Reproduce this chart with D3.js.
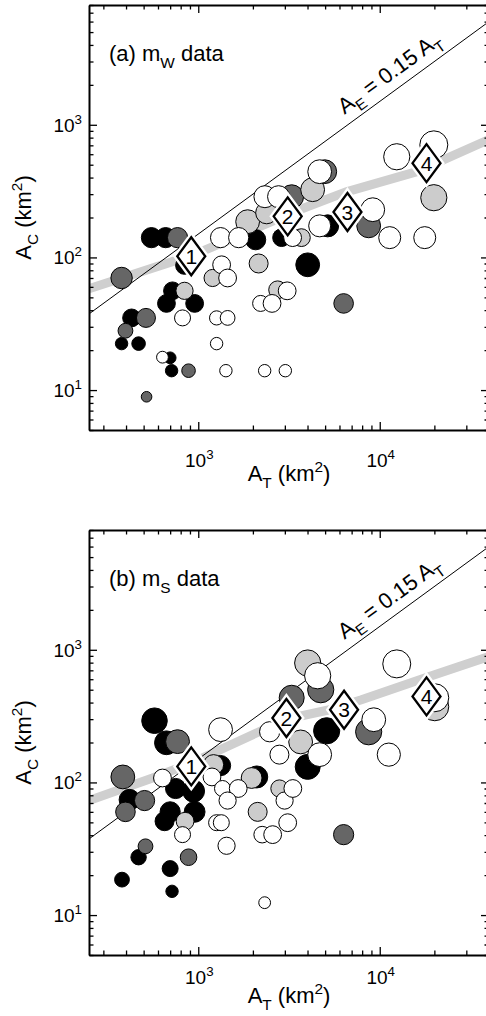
<!DOCTYPE html>
<html>
<head>
<meta charset="utf-8">
<script src="https://cdn.jsdelivr.net/npm/d3@7"></script>
<style>
  body { margin: 0; background: #fff; }
  text { font-family: "Liberation Sans", Arial, Helvetica, sans-serif; fill: #000; }
</style>
</head>
<body>
<script>
// ---- data (A_T, A_C in km^2; size = event magnitude; grp = shade class) ----
const groups = ['A', 'B', 'C', 'D'];   // drawn in this order (black first, white last)
const groupFill = ['#000000', '#666666', '#cccccc', '#ffffff'];

const xMajor = [1e3, 1e4];
const xMinor = [300, 400, 500, 600, 700, 800, 900, 2000, 3000, 4000, 5000, 6000, 7000, 8000, 9000, 20000, 30000, 40000];
const yMajor = [10, 100, 1000];
const yMinor = [5, 6, 7, 8, 9, 20, 30, 40, 50, 60, 70, 80, 90, 200, 300, 400, 500, 600, 700, 800, 900, 2000, 3000, 4000, 5000, 6000, 7000, 8000];

const ratio = 0.15; // A_E = 0.15 A_T

// [A_T, A_C, size, grp]
const mwPoints = [
  [552, 141, 6.7, 0], [661, 141, 6.7, 0], [2071, 136, 6.7, 0], [2878, 141, 6.3, 0],
  [5164, 173, 7.0, 0], [4009, 88, 7.3, 0], [840, 87, 6.3, 0], [721, 56, 6.3, 0],
  [668, 45, 6.3, 0], [955, 45, 6.3, 0], [429, 35, 6.3, 0], [378, 22.4, 5.4, 0],
  [469, 22.4, 5.6, 0], [700, 17.5, 5.3, 0], [713, 14, 5.4, 0],
  [769, 141, 6.7, 1], [378, 70, 6.9, 1], [515, 35, 6.5, 1], [397, 28, 5.8, 1],
  [884, 14, 5.6, 1], [519, 8.9, 5.1, 1], [3272, 287, 7.3, 1], [4977, 443, 7.3, 1],
  [8690, 173, 7.3, 1], [6324, 45, 6.6, 1],
  [840, 56, 6.2, 2], [1200, 70, 6.2, 2], [2151, 90, 6.5, 2], [2737, 57, 6.3, 2],
  [1871, 186, 7.3, 2], [2382, 217, 7.0, 2], [4268, 324, 7.3, 2], [3700, 141, 6.3, 2],
  [19860, 282, 7.7, 2],
  [1327, 141, 6.7, 3], [1670, 141, 6.7, 3], [3311, 141, 6.3, 3], [4667, 173, 7.0, 3],
  [9150, 229, 7.3, 3], [11350, 141, 7.0, 3], [17700, 141, 7.0, 3], [12410, 574, 7.7, 3],
  [19860, 706, 8.0, 3], [4667, 443, 7.3, 3], [2330, 287, 7.0, 3], [2770, 287, 7.0, 3],
  [1345, 88, 6.3, 3], [1451, 70, 6.3, 3], [1262, 35, 5.7, 3], [1451, 35, 5.8, 3],
  [1262, 22.4, 5.4, 3], [1420, 14, 5.4, 3], [2322, 14, 5.4, 3], [3018, 14, 5.4, 3],
  [2206, 45, 6.0, 3], [2550, 45, 6.3, 3], [3090, 56, 6.3, 3], [819, 35, 6.0, 3],
  [635, 17.7, 5.3, 3]
];

const msPoints = [
  [574, 292, 7.6, 0], [668, 199, 7.3, 0], [418, 74, 6.8, 0], [750, 90, 6.7, 0],
  [942, 86, 7.0, 0], [700, 60, 6.7, 0], [955, 60, 6.8, 0], [652, 51, 6.5, 0],
  [469, 27.3, 5.9, 0], [700, 22.4, 6.0, 0], [380, 18.5, 5.8, 0], [717, 15.1, 5.4, 0],
  [1327, 134, 6.7, 0], [2100, 110, 7.0, 0], [5100, 245, 7.7, 0], [4009, 131, 7.5, 0],
  [769, 203, 7.3, 1], [384, 110, 7.3, 1], [506, 73, 6.7, 1], [397, 60, 6.6, 1],
  [512, 33, 5.8, 1], [884, 27.3, 6.1, 1], [6324, 40.4, 6.7, 1], [3272, 435, 7.5, 1],
  [4730, 500, 7.7, 1], [8690, 241, 7.7, 1],
  [4009, 795, 7.7, 2], [1214, 136, 6.7, 2], [1968, 108, 6.8, 2], [2125, 60, 6.5, 2],
  [2800, 90, 6.2, 2], [846, 51, 6.3, 2], [3665, 202, 7.3, 2], [20100, 372, 8.0, 2],
  [1327, 250, 7.3, 3], [635, 108, 6.3, 3], [819, 40.4, 6.0, 3], [1190, 110, 6.3, 3],
  [1360, 90, 6.0, 3], [1660, 90, 6.3, 3], [1451, 73, 6.2, 3], [1262, 49.7, 6.0, 3],
  [1340, 49.7, 6.0, 3], [1432, 33.3, 6.2, 3], [2250, 40.4, 6.1, 3], [2570, 40.4, 6.3, 3],
  [3110, 49.7, 6.3, 3], [2990, 73, 6.2, 3], [3320, 90, 6.3, 3], [2800, 162, 6.5, 3],
  [2322, 12.4, 5.3, 3], [2474, 241, 6.7, 3], [4667, 162, 7.3, 3], [11220, 162, 7.2, 3],
  [9266, 297, 7.3, 3], [4550, 637, 7.7, 3], [12410, 783, 8.0, 3], [20100, 435, 8.0, 3]
];

// numbered bin markers [A_T, A_C]
const mwBins = [[915, 102], [3110, 204], [6640, 220], [18100, 514]];
const msBins = [[915, 132], [3060, 306], [6360, 353], [18100, 445]];

// grey trend band [A_T, A_C]
const mwTrend = [[250, 58], [720, 93], [920, 103], [3700, 232], [6550, 312], [16000, 443], [40000, 775]];
const msTrend = [[250, 73], [560, 108], [915, 140], [3060, 300], [5290, 353], [7930, 420], [16600, 594], [40000, 890]];

// ---- drawing ----
const W = 486, H = 1016;
const left = 89, right = 489, ph = 425;

const svg = d3.select('body').append('svg')
  .attr('width', W).attr('height', H);

const x = d3.scaleLog().domain([250, 40000]).range([left, right]);
const r = d3.scaleLinear().domain([5, 8]).range([5, 14]);

// text with sub/superscripts: segments [{t, sub, sup}]
function richText(sel, segs, size) {
  let shift = 0;
  segs.forEach(s => {
    const target = s.sub ? size * 0.3 : s.sup ? -size * 0.42 : 0;
    sel.append('tspan')
      .attr('dy', target - shift)
      .style('font-size', (s.sub || s.sup ? size * 0.7 : size) + 'px')
      .text(s.t);
    shift = target;
  });
}

function panel(cfg) {
  const top = cfg.top, bottom = top + ph;
  const y = d3.scaleLog().domain([5, 8000]).range([bottom, top]);
  const g = svg.append('g');

  svg.append('clipPath').attr('id', 'clip' + cfg.id)
    .append('rect').attr('x', left).attr('y', top).attr('width', right - left).attr('height', ph);
  const plot = g.append('g').attr('clip-path', `url(#clip${cfg.id})`);

  const line = d3.line().x(d => x(d[0])).y(d => y(d[1]));

  plot.append('path').datum(cfg.trend)
    .attr('d', line)
    .attr('fill', 'none').attr('stroke', '#cfcfcf').attr('stroke-width', 9);

  plot.append('path').datum(x.domain().map(v => [v, ratio * v]))
    .attr('d', line)
    .attr('fill', 'none').attr('stroke', '#000').attr('stroke-width', 1);

  const pts = cfg.points.slice().sort((a, b) => a[3] - b[3]);
  plot.append('g').selectAll('circle').data(pts).join('circle')
    .attr('cx', d => x(d[0])).attr('cy', d => y(d[1]))
    .attr('r', d => r(d[2]))
    .attr('fill', d => groupFill[d[3]])
    .attr('stroke', '#000').attr('stroke-width', 1);

  const shape = 'M0,-19L14,0L0,19L-14,0Z';
  const dg = plot.append('g').selectAll('g').data(cfg.bins).join('g')
    .attr('transform', d => `translate(${x(d[0])},${y(d[1])})`);
  dg.append('path').attr('d', shape).attr('fill', '#fff').attr('stroke', '#fff').attr('stroke-width', 7);
  dg.append('path').attr('d', shape).attr('fill', '#fff').attr('stroke', '#000').attr('stroke-width', 2.3);
  dg.append('text').attr('text-anchor', 'middle').attr('dy', '0.36em')
    .style('font-size', '21px').text((d, i) => i + 1);

  // A_E label along the line
  const p1 = [x(1000), y(ratio * 1000)], p2 = [x(10000), y(ratio * 10000)];
  const ang = Math.atan2(p2[1] - p1[1], p2[0] - p1[0]) * 180 / Math.PI;
  const at0 = 6900;
  const lab = g.append('text')
    .attr('transform', `translate(${x(at0)},${y(ratio * at0)}) rotate(${ang})`)
    .attr('y', -10);
  richText(lab, [{t: 'A'}, {t: 'E', sub: true}, {t: ' = 0.15 A'}, {t: 'T', sub: true}], 22);

  // panel label
  const pl = g.append('text').attr('x', 109).attr('y', top + 56);
  richText(pl, cfg.label, 22);

  // axes: major + minor, ticks pointing inward
  const axes = g.append('g');
  const mk = (axisFn, scale, vals, len) => axisFn(scale).tickValues(vals).tickSize(-len).tickSizeOuter(0).tickFormat('');
  [[d3.axisBottom, x, `translate(0,${bottom})`], [d3.axisTop, x, `translate(0,${top})`]].forEach(([fn, s, tr]) => {
    axes.append('g').attr('transform', tr).call(mk(fn, s, xMajor, 8));
    axes.append('g').attr('transform', tr).call(mk(fn, s, xMinor, 4.5)).call(a => a.select('.domain').remove());
  });
  [[d3.axisLeft, y, `translate(${left},0)`], [d3.axisRight, y, `translate(${right},0)`]].forEach(([fn, s, tr]) => {
    axes.append('g').attr('transform', tr).call(mk(fn, s, yMajor, 8));
    axes.append('g').attr('transform', tr).call(mk(fn, s, yMinor, 4.5)).call(a => a.select('.domain').remove());
  });
  axes.selectAll('.domain').attr('stroke-width', 2);
  axes.selectAll('.tick line').attr('stroke-width', 1.3);

  // tick labels
  xMajor.forEach(v => {
    const t = g.append('text').attr('x', x(v) + 1).attr('y', cfg.labelY).attr('text-anchor', 'middle');
    richText(t, [{t: '10'}, {t: String(Math.round(Math.log10(v))), sup: true}], 19);
  });
  yMajor.forEach(v => {
    const t = g.append('text').attr('x', 82).attr('y', y(v) + 7).attr('text-anchor', 'end');
    richText(t, [{t: '10'}, {t: String(Math.round(Math.log10(v))), sup: true}], 19);
  });

  // axis titles
  const xt = g.append('text').attr('x', (left + right) / 2).attr('y', cfg.titleY).attr('text-anchor', 'middle');
  richText(xt, [{t: 'A'}, {t: 'T', sub: true}, {t: ' (km'}, {t: '2', sup: true}, {t: ')'}], 22);
  const yt = g.append('text')
    .attr('transform', `translate(31,${(top + bottom) / 2}) rotate(-90)`)
    .attr('text-anchor', 'middle');
  richText(yt, [{t: 'A'}, {t: 'C', sub: true}, {t: ' (km'}, {t: '2', sup: true}, {t: ')'}], 22);
}

panel({id: 'a', top: 5, points: mwPoints, bins: mwBins, trend: mwTrend,
  label: [{t: '(a) m'}, {t: 'W', sub: true}, {t: ' data'}], labelY: 467, titleY: 481});
panel({id: 'b', top: 530, points: msPoints, bins: msBins, trend: msTrend,
  label: [{t: '(b) m'}, {t: 'S', sub: true}, {t: ' data'}], labelY: 984, titleY: 1003});
</script>
</body>
</html>
